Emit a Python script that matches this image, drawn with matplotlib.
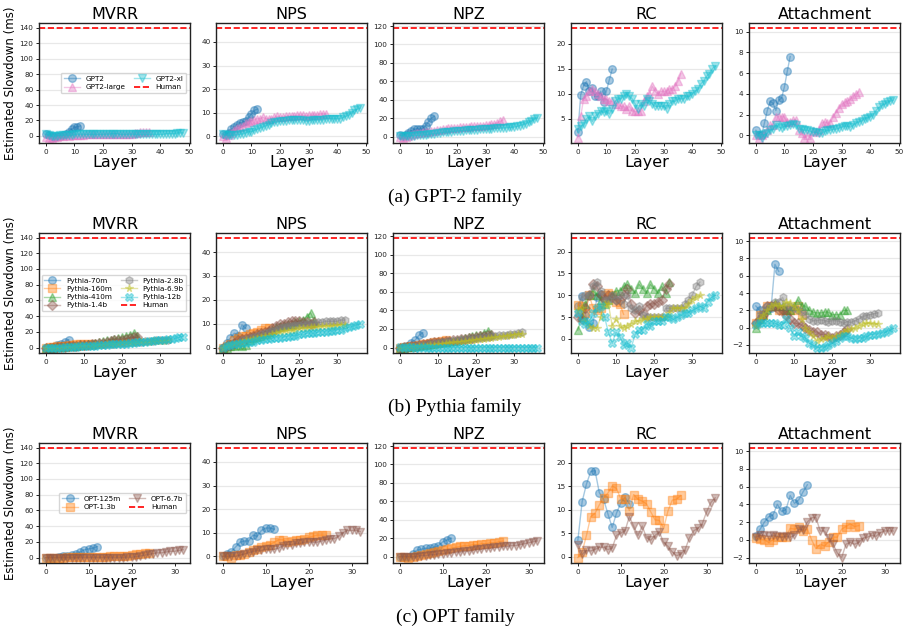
import numpy as np
import matplotlib
matplotlib.use("Agg")
import matplotlib.pyplot as plt

tasks = ["MVRR", "NPS", "NPZ", "RC", "Attachment"]
human = [138.8, 45.7, 117.4, 23.0, 10.3]
captions = ["(a) GPT-2 family", "(b) Pythia family", "(c) OPT family"]

# ---------------- GPT-2 family ----------------
gpt2_names = ["GPT2", "GPT2-large", "GPT2-xl"]
gpt2_colors = ["tab:blue", "tab:pink", "tab:cyan"]
gpt2_markers = ["o", "^", "v"]

gpt2_mvrr = [2, 1, 0, -1, 0, 0, 1, 2, 5, 9, 11, 12, 13]
gpt2l_mvrr = [-1, -2, -2, -1, -1, 0, 0, 1, 0, 1, 1, 1, 1, 1, 2, 2, 2, 2, 2, 2, 2, 3, 3, 3, 3, 3,
              2, 2, 2, 3, 3, 4, 4, 5, 5, 5, 5]
gpt2xl_mvrr = [2, 1, 0, 0, 0, 1, 1, 1, 1, 1, 2, 2, 2, 2, 2, 2, 2, 2, 2, 2, 2, 2, 2, 3, 3, 3, 2,
               2, 2, 2, 2, 2, 2, 2, 2, 2, 2, 2, 2, 2, 2, 2, 3, 3, 3, 3, 4, 4, 4]

gpt2_nps = [1, 0.5, 1.5, 3, 4, 5, 5.5, 6, 6.5, 8, 9.5, 11, 11.5]
gpt2l_nps = [0, -0.5, 0.5, 1.5, 2.5, 3.5, 4, 4.5, 5.5, 6, 6.5, 7, 7.5, 7.5, 8, 7.5, 7.5, 7.5, 8,
             8.5, 8, 8, 8.5, 8.5, 8.5, 8.5, 9, 9, 9, 8.5, 9, 9, 9, 9, 9.5, 9.5, 9.5]
gpt2xl_nps = [1, 0.5, 0.5, 0.5, 0.5, 0.5, 1, 1, 1.5, 2, 2, 2.5, 3, 3.5, 4, 4.5, 5, 5.5, 6, 6,
              6.5, 6.5, 6.5, 7, 7, 7, 7, 7, 7, 6.5, 6.5, 7, 7, 7, 7, 7, 7.5, 7.5, 7.5, 7.5, 7.5,
              7.5, 8, 8.5, 9, 10, 11, 11.5, 12]

gpt2_npz = [2, 1, 2, 4, 6, 8, 8.5, 8, 8.5, 12, 16, 20, 22]
gpt2l_npz = [0, -1, 0, 1, 2, 3, 3.5, 4, 4.5, 5, 5.5, 6, 6.5, 7, 7.5, 8, 8.5, 9, 9, 9.5, 9.5, 10,
             10, 10.5, 10.5, 11, 11, 11.5, 11.5, 12, 12.5, 13, 13.5, 14, 15, 16.5, 18]
gpt2xl_npz = [1, 1, 0.5, 0.5, 1, 1, 1.5, 1.5, 2, 2, 2.5, 3, 3, 3.5, 4, 4.5, 5, 5, 5.5, 6, 6,
              6.5, 6.5, 7, 7, 7, 7.5, 7.5, 8, 8, 8, 8.5, 8.5, 9, 9, 9, 9.5, 9.5, 10, 10, 10.5,
              11, 12, 13, 14, 15.5, 17, 19, 20.5]

gpt2_rc = [2.4, 9.8, 11.6, 12.4, 10.6, 11.2, 9.5, 9.5, 10.5, 8.4, 10.6, 12.8, 14.9]
gpt2l_rc = [1.3, 5.5, 9, 9.5, 10.5, 11, 10.5, 10, 9.5, 9, 9, 8.5, 8.5, 8, 8, 7.5, 7.5, 7.0, 7.5,
            6.5, 6.5, 6.5, 6.5, 8.5, 9.5, 10, 11.5, 10.5, 10, 10.5, 10.5, 10.5, 11, 11, 11.5,
            12.5, 14]
gpt2xl_rc = [3, 3.5, 4, 5, 5.5, 4.5, 5.5, 6, 6.5, 6.3, 6.5, 6, 7, 8.5, 9, 9, 9.5, 10, 9.5, 9, 8,
             7, 8, 7.5, 9, 8.5, 8, 7.5, 7.5, 7.5, 7.5, 7, 8, 8.5, 8.5, 9, 9, 9, 9.5, 9.5, 10,
             10.5, 11, 12, 12.5, 13.5, 14, 15, 15.5]

gpt2_att = [0.5, 0, 0, 1.2, 2.4, 3.3, 3.1, 2.4, 3.4, 3.6, 4.7, 6.2, 7.6]
gpt2l_att = [0, -0.2, 0, 0.2, 0.5, 1, 1, 1.8, 1.8, 1.8, 1.8, 1.3, 1.3, 1.5, 1.5, 0.5, 0.2, -0.2,
             0, -0.2, 0.4, 0.3, 0.5, 1.2, 1.3, 1.2, 1.2, 1.8, 2.2, 2.6, 3, 3.2, 3.3, 3.5, 3.8,
             4, 4.2]
gpt2xl_att = [0, 0, -0.2, 0.1, 0.2, 0.5, 0.6, 1, 0.8, 0.7, 0.9, 0.9, 1.0, 1.1, 1, 0.6, 0.6, 0.5,
              0.5, 0.4, 0.3, 0.3, 0.2, 0.2, 0.4, 0.5, 0.5, 0.6, 0.6, 0.7, 0.8, 0.9, 0.9, 0.8, 1,
              1.2, 1.3, 1.4, 1.6, 1.7, 1.8, 2.0, 2.4, 2.7, 2.9, 3.0, 3.2, 3.3, 3.4]

# ---------------- Pythia family ----------------
py_names = ["Pythia-70m", "Pythia-160m", "Pythia-410m", "Pythia-1.4b",
            "Pythia-2.8b", "Pythia-6.9b", "Pythia-12b"]
py_colors = ["tab:blue", "tab:orange", "tab:green", "tab:brown", "tab:gray", "tab:olive", "tab:cyan"]
py_markers = ["o", "s", "^", "D", "h", "*", "X"]

py70_mvrr = [0, 0, 1, 3, 5, 7, 10]
py160_mvrr = [0, 0.5, 1, 1.5, 2, 2.5, 3, 3.5, 4, 4.5, 5, 5, 5]
py410_mvrr = [0, 0, 0, 0.5, 1, 1, 1.5, 2, 2.5, 3, 3.5, 4, 5, 6, 7, 8, 9, 10, 11, 12, 13, 15, 16, 18, 15]
py1b_mvrr = [0, 0, 0, 0.5, 1, 1, 1.5, 2, 2.5, 3, 3, 3.5, 4, 5, 5.5, 6, 7, 8, 9, 10, 10, 11, 12, 13, 13]
py2b_mvrr = [0, 0, 0, 0, 0.5, 1, 1, 1.5, 2, 2, 2.5, 3, 3, 3.5, 4, 4, 4.5, 5, 5, 5.5, 6, 6, 6.5, 7,
             7, 7.5, 8, 8, 8.5, 9, 9, 9.5, 10]
py6b_mvrr = [0, 0, 0, 0, 0, 0.5, 1, 1, 1.5, 1.5, 2, 2.5, 2.5, 3, 3.5, 3.5, 4, 4.5, 4.5, 5, 5.5,
             5.5, 6, 6, 6.5, 7, 7, 7.5, 8, 8, 8.5, 8.5, 9]
py12b_mvrr = [0, 0, 0, 0, 0, 0.5, 0.5, 1, 1, 1.5, 1.5, 2, 2, 2.5, 3, 3, 3.5, 4, 4, 4.5, 5, 5, 5.5,
              6, 6.5, 7, 7.5, 8, 8.5, 9, 9.5, 10, 10.5, 11, 12, 13, 14]

py70_nps = [0, 2, 4, 6, 5, 9.5, 8]
py160_nps = [0, 0.5, 1.5, 3, 4, 5, 5, 5.5, 6, 6.5, 7.5, 8, 8]
py410_nps = [0, 0, 0.5, 0.5, 1, 0.5, 1, 3, 4, 4.5, 5, 5.5, 6.5, 7.5, 8.5, 9, 9.5, 10, 10, 10.5,
             11, 11.5, 13, 14.5, 11]
py1b_nps = [0, 0.5, 1, 2, 3, 3.5, 4, 4.5, 5, 5.5, 6, 6.5, 7, 8, 9, 10, 10, 10.5, 11, 11, 11, 10.5,
            10.5, 10, 10.5]
py2b_nps = [0, 0.5, 1, 1.5, 2, 3, 3.5, 4, 4.5, 5, 5.5, 6, 6.5, 7, 7.5, 8, 8.5, 9, 9, 9.5, 9.5, 10,
            10, 10, 10, 10.5, 10.5, 11, 11, 11, 11, 11.5, 11.5]
py6b_nps = [0, 0.5, 1, 1.5, 2, 2.5, 3, 3, 3.5, 4, 4.5, 5, 5, 5.5, 6, 6.5, 7, 7, 7.5, 7.5, 8, 8, 8,
            8.5, 8.5, 8.5, 9, 9, 9, 9, 9.5, 9.5, 9.5]
py12b_nps = [0, 0.5, 1, 1.5, 1.5, 2, 2, 2.5, 2.5, 3, 3, 3.5, 3.5, 4, 4, 4, 4.5, 4.5, 5, 5, 5.5,
             5.5, 6, 6, 6, 6.5, 6.5, 6.5, 7, 7, 7.5, 7.5, 8, 8.5, 9, 9.5, 10]

py70_npz = [0, 1, 2, 5, 8, 13, 16]
py160_npz = [0, 0.5, 1, 1.5, 2, 3, 3.5, 4, 5, 6, 6.5, 7, 8]
py410_npz = [0, 0, 0.5, 1, 1.5, 2, 2.5, 3, 3.5, 4, 5, 5.5, 6, 7, 7.5, 8, 9, 10, 11, 12, 13, 14,
             16, 18, 15]
py1b_npz = [0, 0.5, 1, 1.5, 2, 3, 3.5, 4, 5, 5.5, 6, 6.5, 7, 7.5, 8, 8.5, 9, 9.5, 10, 10.5, 11,
            12, 12.5, 13, 14]
py2b_npz = [0, 0.5, 1, 1.5, 2, 2.5, 3, 3.5, 4, 4.5, 5, 5.5, 6, 6.5, 7, 7.5, 8, 8.5, 9, 9.5, 10,
            10.5, 11, 11.5, 12, 12.5, 13, 13.5, 14, 14.5, 15, 16, 17]
py6b_npz = [0, 0, 0.5, 1, 1, 1.5, 2, 2, 2.5, 3, 3.5, 4, 4.5, 5, 5.5, 6, 6.5, 7, 7.5, 8, 8.5, 9,
            9.5, 10, 10.5, 11, 11.5, 12, 12.5, 13, 14, 14.5, 15]
py12b_npz = [0.3, 0, 0.2, 0.1, 0, 0, 0.1, 0, 0, 0, 0, 0, 0, 0, 0, 0, 0, 0, 0, 0, 0, 0, 0, 0, 0,
             0, 0, 0, 0, 0, 0, 0, 0, 0, 0, 0, 0]

py70_rc = [7.5, 9.8, 5.5, 2.8, 3.6, 9.5, 10.3]
py160_rc = [7.8, 7.5, 6, 10, 7, 6.5, 7, 10, 10.5, 10, 8.5, 8, 5.6]
py410_rc = [2, 5, 8, 10, 11, 10, 9, 8, 9, 10, 11, 11, 12, 12.5, 11.5, 10.5, 12.5, 11.5, 10.5,
            12.5, 11.5, 10.5, 12, 10.5, 13]
py1b_rc = [5, 4.5, 7, 10, 12.5, 12, 10, 9, 10, 9.5, 9, 9, 10, 11.5, 8, 6, 6.5, 6, 7.5, 8, 8, 8.5,
           9, 11.5, 12.5]
py2b_rc = [6, 9.5, 10, 10, 12, 13, 11, 9, 9, 10, 9, 10, 8, 10, 7, 6.5, 7.5, 5.5, 5, 5, 5, 5, 5,
           7, 7, 7, 7, 7, 8, 9, 10, 12, 13]
py6b_rc = [6.5, 7, 4, 3, 2.5, 2.5, 5, 8, 8, 3, 4.5, 3, 2.5, 3, 3.5, 4, 4, 4.5, 4.5, 5, 5, 5, 5,
           5, 6, 7, 7, 7, 7, 8, 9, 9.5, 10]
py12b_rc = [6, 4, 3.5, 4, 6, 7, 7.5, 5, 1.5, -1, 1.5, 0.5, -1.5, -1, -2, 1, 2, 2, 3.5, 3, 4, 4,
            4, 5, 5, 4.5, 5, 5.5, 6, 6, 6.5, 7, 7.5, 7, 8.5, 9.5, 10]

py70_att = [2.5, 2, 1.5, 2, 2.3, 7.3, 6.5]
py160_att = [0.5, 1.5, 1.5, 2.5, 2.5, 2.5, 2, 2, 2, 2, 2, 2.5, 1.5]
py410_att = [0.0, 1, 1.5, 2, 2.5, 2.8, 2.5, 2.5, 2, 2, 2.5, 3.2, 2.5, 2.5, 2, 1.8, 1.7, 1.7,
             1.8, 1.8, 1.5, 1.5, 1.5, 2, 2]
py1b_att = [0.5, 1, 1.5, 2.5, 2.5, 2.5, 2, 2, 1.5, 1, 0.5, 0.5, 0.3, 0, -0.3, -0.5, -0.5, -0.8,
            -0.8, -1, -1.2, -1, -0.8, -0.5, -0.2]
py2b_att = [0.5, 1.5, 2, 2.5, 2.5, 3, 3, 3.5, 2.5, 2.5, 2.3, 2, 1.8, 1.5, 1, 0.8, 0.8, 0.9, 0.8,
            0.7, 0.8, 0.8, 0.7, 0.5, 0.7, 0.6, 0.8, 1.0, 1.3, 1.4, 1.5, 1.6, 1.7]
py6b_att = [0.2, 1, 1.5, 2, 2.5, 2.7, 2.5, 2.5, 3, 2.8, 2.5, 2, 1, 0, -0.5, -1, -1.5, -1.3, -1.2,
            -1, -1.2, -1, -0.8, -0.5, -0.3, -0.2, 0, 0.2, 0.4, 0.5, 0.5, 0.4, 0.4]
py12b_att = [0.3, 0.5, 0.5, 0.5, 0.5, 0.5, 0.3, 0.3, 1, 0, -1, -0.5, -1, -1.2, -1.8, -2, -2.3,
             -2.3, -2.2, -2, -1.8, -1.5, -1.2, -1.0, -1.0, -1.2, -1.3, -1.2, -1.2, -1.0, -0.8,
             -0.8, -0.7, -0.6, -0.5, -0.3, -0.1]

# ---------------- OPT family ----------------
opt_names = ["OPT-125m", "OPT-1.3b", "OPT-6.7b"]
opt_colors = ["tab:blue", "tab:orange", "tab:brown"]
opt_markers = ["o", "s", "v"]

opt125_mvrr = [0, 0, 0, 1, 1.5, 2.5, 3.5, 5, 7, 10, 11, 12, 14]
opt1b_mvrr = [0, 0, 0, 0, 0, 0.5, 0.5, 0.5, 1, 1, 1, 1, 1, 1, 1, 1.5, 1.5, 1.5, 2, 2, 3, 4, 5, 6, 6]
opt6b_mvrr = [0, 0, 0, 0, 0, 0, 0, 0, 0, 0, 0, 0, 0, 0, 0, 0, 0, 0, 0, 0.5, 0.5, 1, 2, 3, 4, 5, 6,
              6, 7, 8, 8, 9, 10]

opt125_nps = [0, 1, 2, 4, 6, 6.5, 6.5, 9, 8.5, 11, 12, 12, 11.5]
opt1b_nps = [0, 0, -0.5, 0.5, 0.5, 1, 2, 2.5, 3, 4, 4.5, 5, 6, 7, 7, 6, 6.5, 7, 7, 7.5, 8, 8.5,
             9, 9, 9]
opt6b_nps = [0, 0, 0, 0, 0.5, 1, 1.5, 2, 2.5, 2.5, 3, 3, 3, 3.5, 4.5, 5, 5, 5.5, 5.5, 6, 6, 6, 6,
             6.5, 7, 7.5, 7.5, 8.5, 10, 11, 11, 11, 10.5]

opt125_npz = [0, 0, 0, 3, 7, 8, 9, 9, 10, 12, 16, 18, 20]
opt1b_npz = [0, 0, -1, 0, 1, 2, 3, 4, 5, 6, 7, 8, 9, 10, 11, 12, 12, 13, 13, 14, 14, 15, 15, 16, 17]
opt6b_npz = [0, 0, 0, 0, 0, 1, 1, 2, 2, 3, 3, 4, 4, 5, 5, 6, 6, 7, 8, 8, 9, 9, 10, 10, 11, 11, 12,
             12, 13, 14, 15, 16, 17]

opt125_rc = [3.5, 11.7, 15.4, 18.1, 18.3, 13.6, 12.2, 9.1, 6.2, 9.2, 11.4, 12.6, 11.2]
opt1b_rc = [-0.2, 1, 4.5, 8.5, 9.2, 11, 12.5, 13.5, 15, 14.5, 12.3, 12.3, 9.8, 13.2, 12.2, 11.8,
            11.2, 9.5, 7.8, 7.7, 6, 9.7, 12.0, 12.2, 13]
opt6b_rc = [2.5, 0.5, 1.3, 1.2, 1.5, 2.0, 2.0, 1.5, 1.8, 4.5, 5, 5.5, 8.5, 6.5, 4.5, 6.5, 4, 3.5,
            4.5, 5.2, 3, 2.2, 1, 0.2, 0.5, 1.5, 4, 5.5, 6, 7, 9.5, 11.5, 12.5]

opt125_att = [0.4, 1.2, 2.0, 2.6, 2.8, 4.0, 3.2, 3.4, 5.0, 4.1, 4.5, 5.4, 6.2]
opt1b_att = [0.2, 0.1, 0, -0.3, 0, 0.3, 0.3, 0.3, 1.3, 1.2, 1.4, 1.0, 1.2, 0, -1, -0.5, -0.7,
             -0.2, 0.3, 0.3, 1.2, 1.5, 1.8, 1.5, 1.6]
opt6b_att = [0.3, 0.5, 0.5, 0.4, 0.5, 0.4, 0.3, 0.4, 0.3, 0.5, 1.2, 1.1, 2.0, 2.5, 2.5, 1.0, 1.0,
             0.2, -0.5, -1.5, -2.0, -0.5, -0.3, -0.5, -0.3, 0.2, 0.3, 0.5, 0.4, 0.8, 1.0, 1.0, 1.0]

families = [
    (gpt2_names, gpt2_colors, gpt2_markers,
     [[gpt2_mvrr, gpt2l_mvrr, gpt2xl_mvrr],
      [gpt2_nps, gpt2l_nps, gpt2xl_nps],
      [gpt2_npz, gpt2l_npz, gpt2xl_npz],
      [gpt2_rc, gpt2l_rc, gpt2xl_rc],
      [gpt2_att, gpt2l_att, gpt2xl_att]]),
    (py_names, py_colors, py_markers,
     [[py70_mvrr, py160_mvrr, py410_mvrr, py1b_mvrr, py2b_mvrr, py6b_mvrr, py12b_mvrr],
      [py70_nps, py160_nps, py410_nps, py1b_nps, py2b_nps, py6b_nps, py12b_nps],
      [py70_npz, py160_npz, py410_npz, py1b_npz, py2b_npz, py6b_npz, py12b_npz],
      [py70_rc, py160_rc, py410_rc, py1b_rc, py2b_rc, py6b_rc, py12b_rc],
      [py70_att, py160_att, py410_att, py1b_att, py2b_att, py6b_att, py12b_att]]),
    (opt_names, opt_colors, opt_markers,
     [[opt125_mvrr, opt1b_mvrr, opt6b_mvrr],
      [opt125_nps, opt1b_nps, opt6b_nps],
      [opt125_npz, opt1b_npz, opt6b_npz],
      [opt125_rc, opt1b_rc, opt6b_rc],
      [opt125_att, opt1b_att, opt6b_att]]),
]

W, H = 910, 632
fig = plt.figure(figsize=(W / 100, H / 100), dpi=100)

col_left = [39, 216, 393, 571, 749]
ax_w = 151
row_top = [23, 233, 443]
ax_h = 120
caption_y = [197, 407, 617]

for r, (names, colors, markers, series) in enumerate(families):
    for c, task in enumerate(tasks):
        ax = fig.add_axes([col_left[c] / W, 1 - (row_top[r] + ax_h) / H, ax_w / W, ax_h / H])
        for vals, name, col, mk in zip(series[c], names, colors, markers):
            ax.plot(np.arange(len(vals)), vals, color=col, marker=mk, markersize=5.5,
                    lw=1, alpha=0.4, label=name)
        ax.axhline(human[c], color="red", ls="--", lw=1.2, label="Human")
        ax.set_title(task, fontsize=11.5, pad=3)
        ax.set_xlabel("Layer", fontsize=11.5, labelpad=0)
        if c == 0:
            ax.set_ylabel("Estimated Slowdown (ms)", fontsize=8.5, labelpad=2)
            ax.legend(loc="center right", ncol=2, fontsize=5.2, handlelength=2.2,
                      columnspacing=1.2, labelspacing=0.3, borderpad=0.4, framealpha=0.8)
        ax.grid(axis="y", color="#e8e8e8", lw=0.9)
        ax.set_axisbelow(True)
        ax.tick_params(labelsize=5.2, length=2.5, width=0.7, pad=1.5, colors="#222222")
        for s in ax.spines.values():
            s.set_color("#222222")
            s.set_linewidth(1.0)
    fig.text(0.5, 1 - caption_y[r] / H, captions[r], ha="center", va="center",
             fontsize=14, family="Liberation Serif")

fig.savefig("out.png", dpi=100)
